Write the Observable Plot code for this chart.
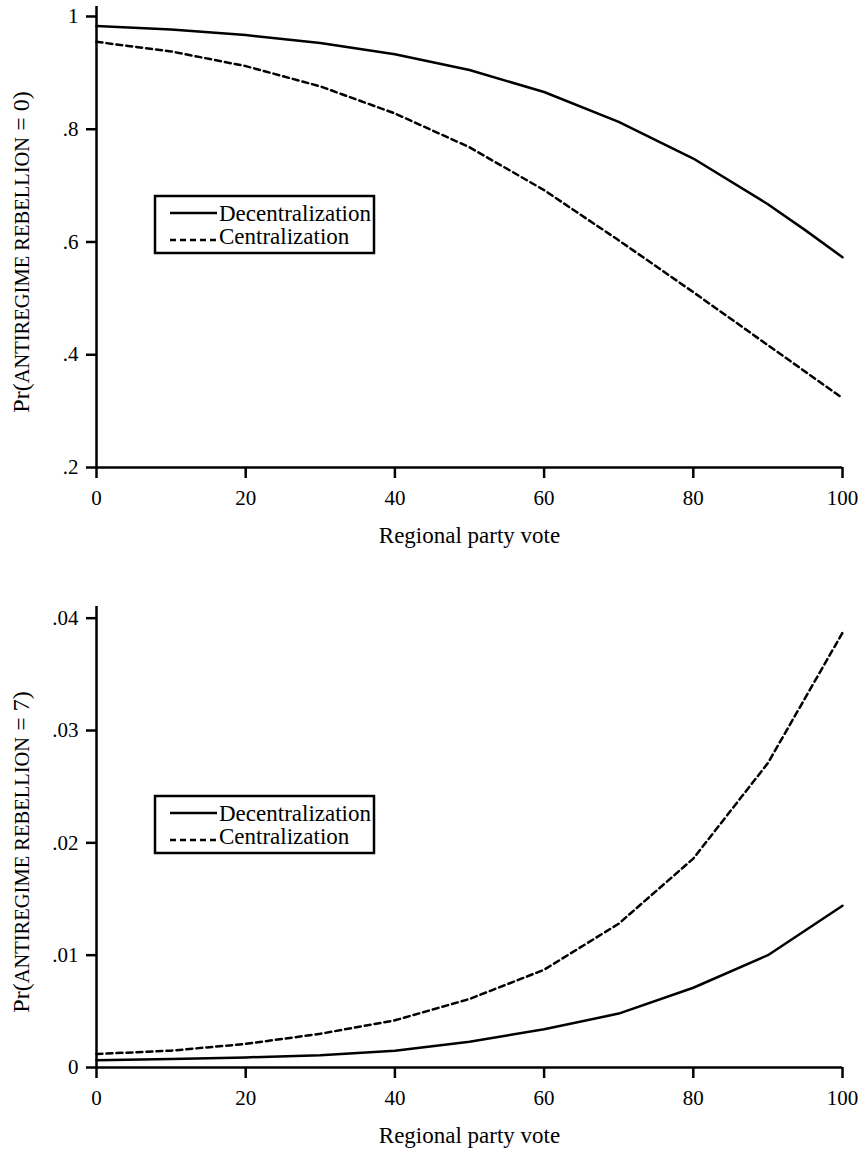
<!DOCTYPE html>
<html><head><meta charset="utf-8">
<script src="https://cdn.jsdelivr.net/npm/d3@7"></script>
<script src="https://cdn.jsdelivr.net/npm/@observablehq/plot@0.6"></script>
<style>
body{margin:0;background:#fff}
#chart svg{display:block}
#chart svg text, #chart svg tspan{font-family:"Liberation Serif", serif !important}
</style>
</head><body><div id="chart"></div>
<script>
// ---- data ----
const xTicks = [0, 20, 40, 60, 80, 100];
const xLabel = "Regional party vote";
const seriesNames = ["Decentralization", "Centralization"];

// Top panel: Pr(ANTIREGIME REBELLION = 0)
const topDecX = [0, 10, 20, 30, 40, 50, 60, 70, 80, 90, 95, 100];
const topDecentralization = [0.983, 0.977, 0.967, 0.953, 0.933, 0.905, 0.866, 0.813, 0.748, 0.667, 0.621, 0.573];
const topCenX = [0, 10, 20, 30, 40, 50, 60, 70, 80, 90, 100];
const topCentralization = [0.955, 0.938, 0.912, 0.876, 0.828, 0.768, 0.692, 0.603, 0.511, 0.417, 0.323];
const topYTicks = [0.2, 0.4, 0.6, 0.8, 1];

// Bottom panel: Pr(ANTIREGIME REBELLION = 7)
const botDecX = [0, 10, 20, 30, 40, 50, 60, 70, 80, 90, 100];
const botDecentralization = [0.00065, 0.00075, 0.0009, 0.0011, 0.0015, 0.0023, 0.0034, 0.0048, 0.0071, 0.0100, 0.0144];
const botCenX = [0, 10, 20, 30, 40, 50, 60, 70, 80, 90, 100];
const botCentralization = [0.0012, 0.0015, 0.0021, 0.0030, 0.0042, 0.0061, 0.0087, 0.0128, 0.0186, 0.0271, 0.0387];
const botYTicks = [0, 0.01, 0.02, 0.03, 0.04];

const fmt = d => d === 0 ? "0" : d === 1 ? "1" : String(+d.toFixed(4)).replace(/^0/, "");
const FONT = "Liberation Serif";
const LW = 2.5;

function panel(o) {
  const decData = o.decX.map((x, i) => ({x, y: o.dec[i]}));
  const cenData = o.cenX.map((x, i) => ({x, y: o.cen[i]}));
  const svg = Plot.plot({
    width: 867, height: o.height,
    marginLeft: 96, marginRight: 25, marginTop: 6, marginBottom: o.height - 467,
    style: {fontFamily: FONT, fontSize: "21px", color: "#000", background: "#fff", overflow: "visible"},
    x: {domain: [0, 100]},
    y: {domain: o.yDomain},
    marks: [
      Plot.axisX({ticks: xTicks, tickSize: 11, tickPadding: 12, strokeWidth: LW, label: null, fontFamily: FONT, fontVariant: "normal", tickFormat: d => String(d)}),
      Plot.axisY({ticks: o.yTicks, tickSize: 10, tickPadding: 8, strokeWidth: LW, label: null, fontFamily: FONT, fontVariant: "normal", tickFormat: fmt}),
      Plot.ruleX([0], {y1: o.yDomain[0], y2: o.yDomain[1], strokeWidth: LW}),
      Plot.ruleY([o.yDomain[0]], {x1: 0, x2: 100, strokeWidth: LW}),
      Plot.line(cenData, {x: "x", y: "y", strokeWidth: LW, strokeDasharray: "6,4"}),
      Plot.line(decData, {x: "x", y: "y", strokeWidth: LW}),
      Plot.text([xLabel], {text: d => d, frameAnchor: "bottom", dy: 75, fontSize: 23, fontFamily: FONT})
    ]
  });
  const s = d3.select(svg);
  // y-axis label with small caps portion
  const t = s.append("text")
    .attr("transform", "translate(29,252) rotate(-90)")
    .attr("text-anchor", "middle")
    .style("font-family", FONT)
    .attr("font-size", 24)
    .attr("fill", "#000");
  t.append("tspan").text("Pr(");
  t.append("tspan").attr("font-size", 20.5).text("ANTIREGIME REBELLION");
  t.append("tspan").text(" = " + o.level + ")");
  // legend
  const g = s.append("g").style("font-family", FONT).attr("font-size", 23).attr("text-anchor", "start");
  g.append("rect").attr("x", 155).attr("y", 196).attr("width", 219).attr("height", 57)
    .attr("fill", "#fff").attr("stroke", "#000").attr("stroke-width", LW);
  g.append("line").attr("x1", 170).attr("x2", 217).attr("y1", 213).attr("y2", 213)
    .attr("stroke", "#000").attr("stroke-width", LW);
  g.append("line").attr("x1", 170).attr("x2", 217).attr("y1", 240).attr("y2", 240)
    .attr("stroke", "#000").attr("stroke-width", LW).attr("stroke-dasharray", "6,4");
  g.append("text").attr("x", 219).attr("y", 221).attr("text-anchor", "start").text(seriesNames[0]);
  g.append("text").attr("x", 219).attr("y", 244).attr("text-anchor", "start").text(seriesNames[1]);
  return svg;
}

const chart = document.getElementById("chart");
chart.appendChild(panel({
  height: 600, yDomain: [0.2, 1.0177], yTicks: topYTicks, level: 0,
  decX: topDecX, dec: topDecentralization, cenX: topCenX, cen: topCentralization
}));
chart.appendChild(panel({
  height: 551, yDomain: [0, 0.04104], yTicks: botYTicks, level: 7,
  decX: botDecX, dec: botDecentralization, cenX: botCenX, cen: botCentralization
}));
</script>
</body></html>
